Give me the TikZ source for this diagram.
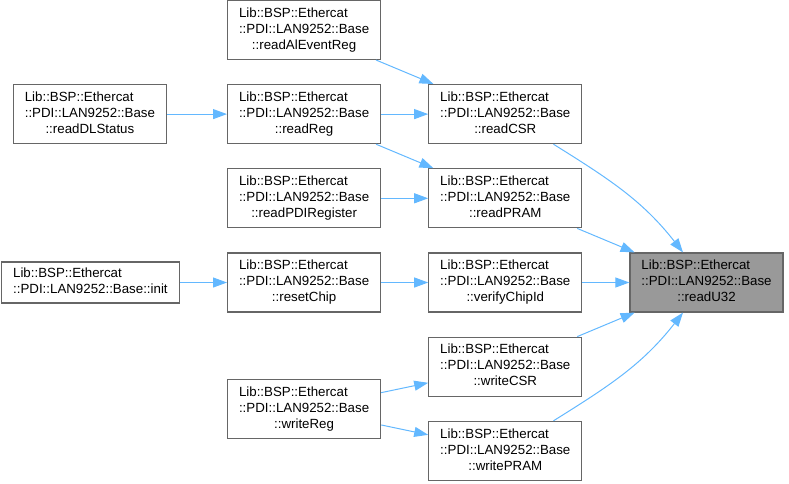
\documentclass[tikz,border=0pt]{standalone}
\usepackage{fontspec}
\setmainfont{Liberation Sans}
\usepackage{xcolor}
\usepackage{tikz}
\usetikzlibrary{arrows.meta}
\usetikzlibrary{calc}
\usetikzlibrary{positioning}

\definecolor{callblue}{HTML}{63B8FF}
\definecolor{boxgray}{HTML}{666666}
\definecolor{focusgray}{HTML}{999999}

\newcommand{\lanfn}[1]{\begin{tabular}{@{}l@{}}Lib::BSP::Ethercat\\::PDI::LAN9252::Base\\\multicolumn{1}{@{}c@{}}{::#1}\end{tabular}}

\begin{document}
\begin{tikzpicture}[x=1pt,y=1pt,>={Triangle[length=14pt,width=10pt]},auto]
			\tikzstyle{fn}=[draw=boxgray, fill=white, rectangle, line width=1.2pt, minimum width=153pt, minimum height=59pt, inner sep=0pt, font=\fontsize{13.3}{16}\selectfont]
			\tikzstyle{call}=[->, color=callblue, line width=1pt]
			\useasboundingbox (0,0) rectangle (789,-483);
 					 \node[fn, fill=focusgray] (readU32) at (706.5,-282.5) {\lanfn{readU32}};
 					 \node[fn] (verifyChipId) [left=47pt of readU32] {\lanfn{verifyChipId}};
 					 \node[fn] (readPRAM) [above=24pt of verifyChipId] {\lanfn{readPRAM}};
 					 \node[fn] (readCSR) [above=24pt of readPRAM] {\lanfn{readCSR}};
 					 \node[fn] (writeCSR) [below=24pt of verifyChipId] {\lanfn{writeCSR}};
 					 \node[fn] (writePRAM) [below=24pt of writeCSR] {\lanfn{writePRAM}};
 					 \node[fn] (readReg) [left=47pt of readCSR] {\lanfn{readReg}};
 					 \node[fn] (readAlEventReg) [above=24pt of readReg] {\lanfn{readAlEventReg}};
 					 \node[fn] (readPDIRegister) [left=47pt of readPRAM] {\lanfn{readPDIRegister}};
 					 \node[fn] (resetChip) [left=47pt of verifyChipId] {\lanfn{resetChip}};
 					 \coordinate (wmid) at ($(writeCSR.west)!.5!(writePRAM.west)$);
 					 \node[fn] (writeReg) [left=47pt of wmid] {\lanfn{writeReg}};
 					 \node[fn] (readDLStatus) [left=60pt of readReg] {\lanfn{readDLStatus}};
 					 \node[fn, minimum width=178pt, minimum height=41pt] (init) [left=47pt of resetChip] {\begin{tabular}{@{}l@{}}Lib::BSP::Ethercat\\::PDI::LAN9252::Base::init\end{tabular}};

					 \path[call]
				(readAlEventReg) edge (readCSR)
				(readReg) edge (readCSR)
				(readReg) edge (readPRAM)
				(readDLStatus) edge (readReg)
				(readPDIRegister) edge (readPRAM)
				(init) edge (resetChip)
				(resetChip) edge (verifyChipId)
				(writeReg) edge (writeCSR)
				(writeReg) edge (writePRAM)
				(readCSR) edge [out=-32, in=128] (readU32)
				(readPRAM) edge (readU32)
				(verifyChipId) edge (readU32)
				(writeCSR) edge (readU32)
				(writePRAM) edge [out=32, in=-128] (readU32)
				;

	\end{tikzpicture}
\end{document}
